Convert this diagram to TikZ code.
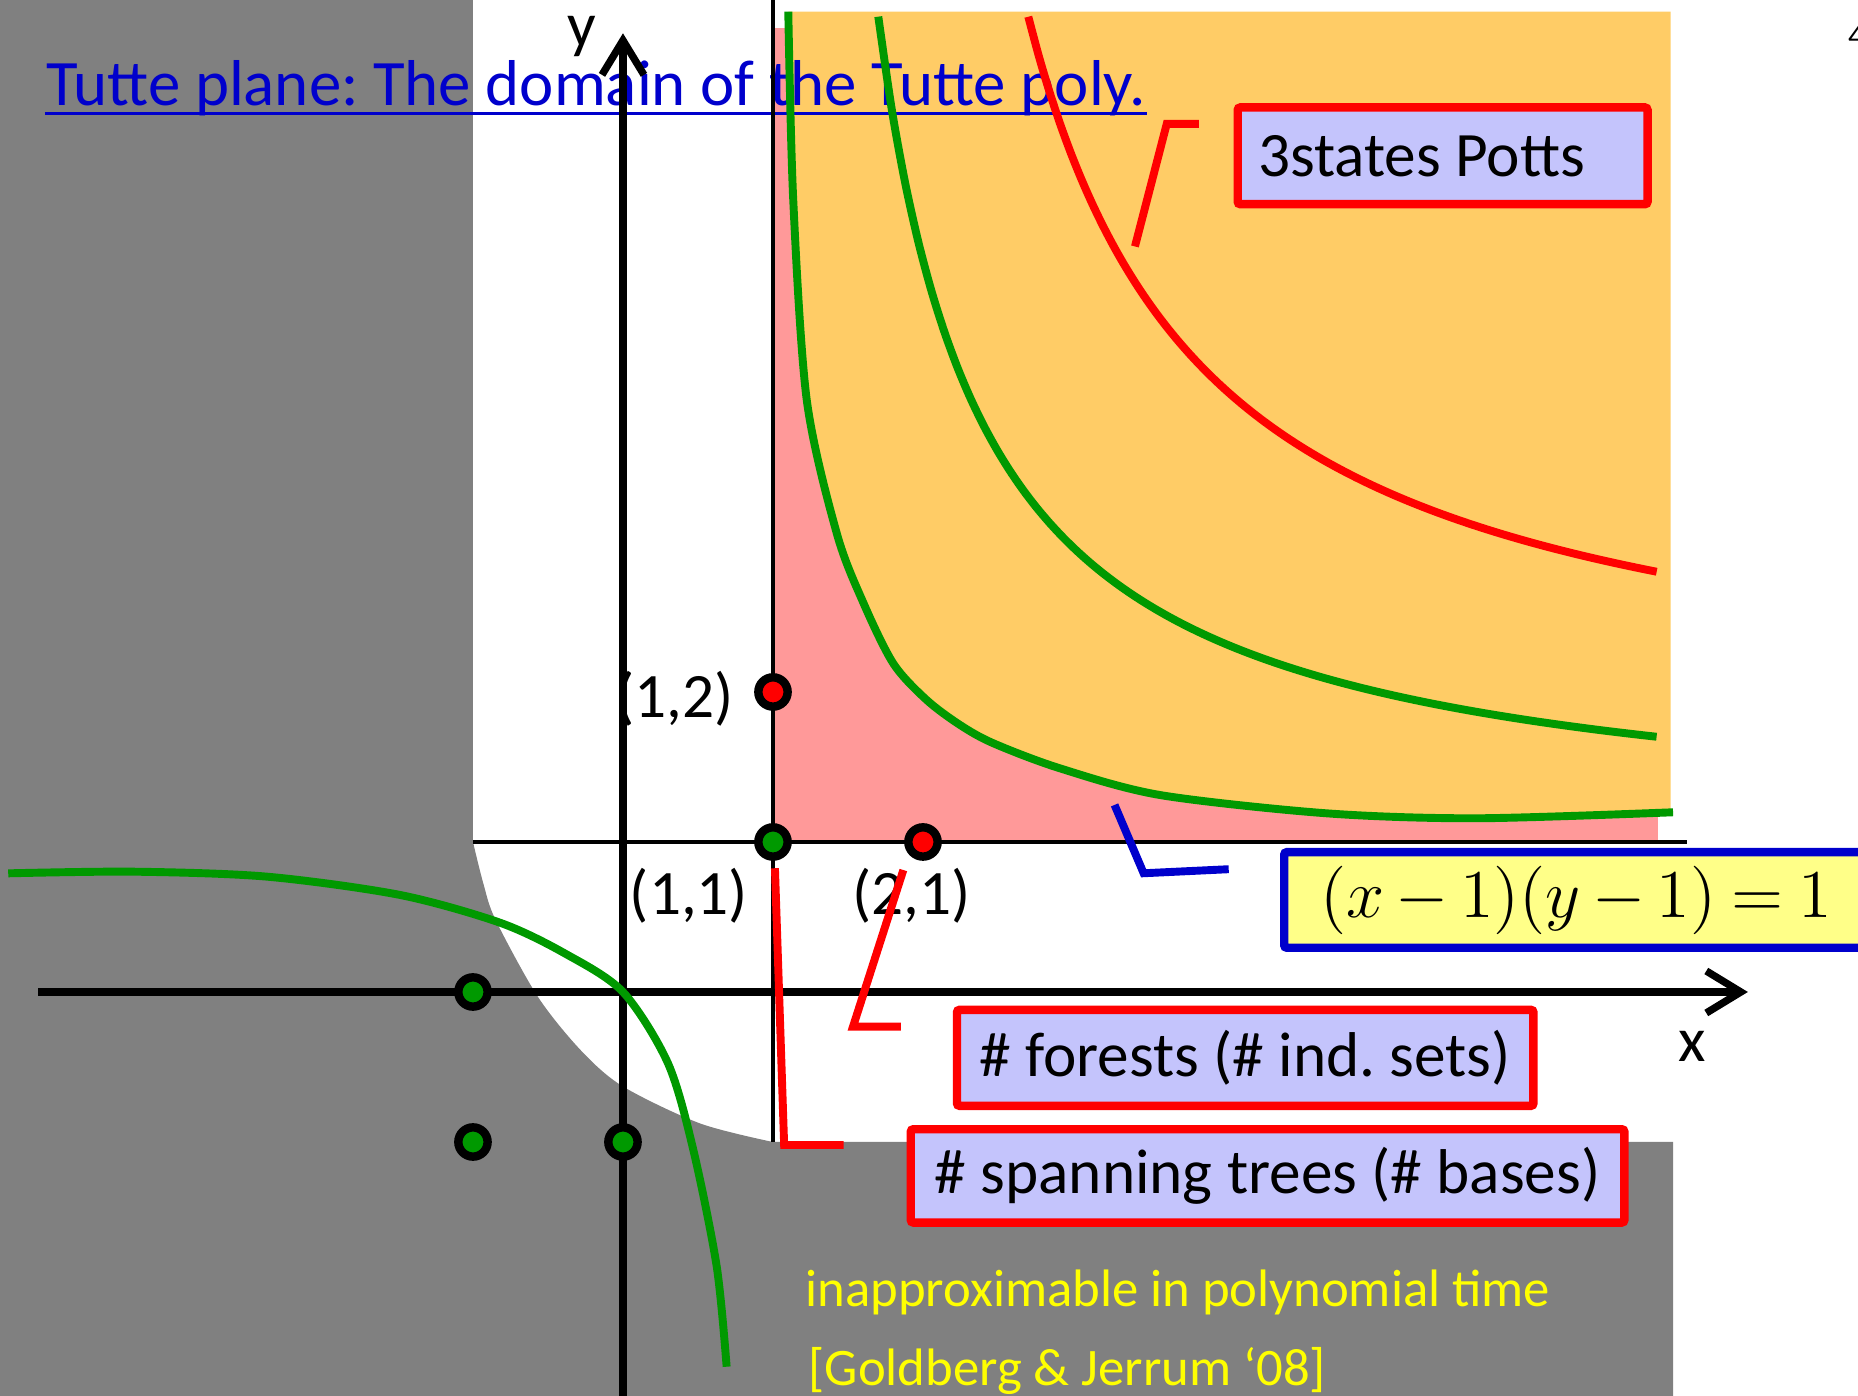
\documentclass[tikz,border=0pt]{standalone}
\usepackage{fontspec}
\setmainfont{Carlito}
\frenchspacing
\usetikzlibrary{arrows.meta}
\definecolor{shadegray}{RGB}{128,128,128}
\definecolor{regionpink}{RGB}{255,153,153}
\definecolor{regionorange}{RGB}{255,204,102}
\definecolor{curvegreen}{RGB}{0,153,0}
\definecolor{curvered}{RGB}{255,0,0}
\definecolor{linkblue}{RGB}{0,0,204}
\definecolor{boxlavender}{RGB}{196,196,252}
\definecolor{boxyellow}{RGB}{255,255,136}
\definecolor{noteyellow}{RGB}{255,255,0}

\begin{document}
\begin{tikzpicture}[
  axis/.style={line width=1.4pt, -{Straight Barb[length=2.3mm,width=2.8mm]}},
  thinline/.style={line width=0.6pt},
  curve/.style={line width=1.5pt},
  callout/.style={line width=1.5pt},
  dot/.style={circle, draw=black, line width=1.6pt, inner sep=0pt, minimum size=1.95mm},
  ptlabel/.style={inner sep=0pt, font=\fontsize{12}{14}\selectfont},
  labelbox/.style={draw=curvered, fill=boxlavender, line width=1.6pt, rounded corners=0.5pt, inner sep=0pt, font=\fontsize{12}{14}\selectfont},
]
\useasboundingbox (-4.153,-2.693) rectangle (8.233,6.613);

% Regions
\fill[shadegray] (-4.153,6.613) -- (-1,6.613) -- (-1,1)
  -- plot[smooth] coordinates {(-1,1) (-0.93,0.72) (-0.849,0.48) (-0.568,-0.031) (-0.28,-0.39) (0,-0.63) (0.513,-0.876) (1,-1)}
  -- (7,-1) -- (7,-2.693) -- (-4.153,-2.693) -- cycle;
\fill[regionpink] (1,1) rectangle (6.902,6.424);
\fill[regionorange] plot[smooth] coordinates {(1.102,6.535) (1.135,5.28) (1.225,3.947) (1.425,3.058) (1.6,2.6) (1.802,2.19) (2.024,1.947) (2.247,1.78) (2.469,1.658) (2.913,1.491) (3.58,1.313) (4.691,1.191) (5.691,1.158) (7.0,1.198)}
  -- (6.983,1.198) -- (6.983,6.535) -- cycle;

% Title
\node[anchor=base west, inner sep=0pt, text=linkblue, font=\fontsize{12.3}{14}\selectfont] (title) at (-3.853,5.907) {Tutte plane: The domain of the Tutte poly.};
\draw[linkblue, line width=0.6pt] ([yshift=-1.4pt]title.base west) -- ([yshift=-1.4pt]title.base east);
\node[anchor=base west, inner sep=0pt, font=\fontsize{6}{7}\selectfont] (pagenum) at (8.16,6.3) {4};

% Lines x=1 and y=1
\draw[thinline] (1,-1) -- (1,6.613);
\draw[thinline] (-1,1) -- (7.096,1);

% Axes
\draw[axis] (-3.898,0) -- (7.499,0);
\draw[axis] (0,-2.693) -- (0,6.391);
\node[ptlabel] (xlabel) at (7.125,-0.365) {x};
\node[ptlabel, anchor=base] (ylabel) at (-0.273,6.3) {y};

% Curves
\draw[curve, curvegreen] plot[smooth] coordinates {(1.102,6.535) (1.135,5.28) (1.225,3.947) (1.425,3.058) (1.6,2.6) (1.802,2.19) (2.024,1.947) (2.247,1.78) (2.469,1.658) (2.913,1.491) (3.58,1.313) (4.691,1.191) (5.691,1.158) (7.0,1.198)};
\draw[curve, curvegreen] plot[domain=1.702:6.891, samples=60, smooth] (\x, {1.052+3.8256/(\x-1)});
\draw[curve, curvered] plot[domain=2.702:6.891, samples=60, smooth] (\x, {1.74+5.723/(\x-1.5)});
\draw[curve, curvegreen] plot[smooth] coordinates {(-4.098,0.791) (-3.265,0.802) (-2.375,0.769) (-1.487,0.647) (-0.82,0.462) (-0.389,0.258) (0,0) (0.3,-0.475) (0.469,-1.053) (0.625,-1.831) (0.691,-2.498)};

% Points
\node[dot, fill=curvegreen] (p11) at (1,1) {};
\node[dot, fill=curvered] (p21) at (2,1) {};
\node[dot, fill=curvered] (p12) at (1,2) {};
\node[dot, fill=curvegreen] (pm10) at (-1,0) {};
\node[dot, fill=curvegreen] (pm1m1) at (-1,-1) {};
\node[dot, fill=curvegreen] (p0m1) at (0,-1) {};
\node[ptlabel, anchor=east] (l12) at (0.745,1.953) {(1,2)};
\node[ptlabel] (l11) at (0.44,0.643) {(1,1)};
\node[ptlabel] (l21) at (1.925,0.643) {(2,1)};

% Boxes
\node[labelbox, minimum width=2.732cm, minimum height=0.645cm] (potts) at (5.464,5.574) {3states Potts\hspace*{0.28cm}};
\node[labelbox, draw=linkblue, fill=boxyellow, minimum width=3.892cm, minimum height=0.637cm] (tutteeq) at (6.354,0.6135) {\scalebox{1.08}{\medmuskip=3mu\thickmuskip=4mu$(x-1)(y-1)=1$}};
\node[labelbox, minimum width=3.843cm, minimum height=0.64cm] (forests) at (4.148,-0.439) {\# forests (\# ind. sets)};
\node[labelbox, minimum width=4.757cm, minimum height=0.622cm] (trees) at (4.297,-1.226) {\# spanning trees (\# bases)};

% Callouts
\coordinate (pottstip) at (3.413,4.97);
\coordinate (eqtip) at (3.277,1.247);
\coordinate (foreststip) at (1.869,0.813);
\coordinate (treestip) at (1.013,0.825);
\draw[callout, curvered] ([xshift=-2.31mm, yshift=2.13mm]potts.west) -- ++(-0.214,0) -- (pottstip);
\draw[callout, linkblue] ([xshift=-3.42mm, yshift=2.05mm]tutteeq.west) -- ++(-0.567,-0.027) -- (eqtip);
\draw[callout, curvered] ([xshift=-3.46mm, yshift=2.08mm]forests.west) -- ++(-0.319,0) -- (foreststip);
\draw[callout, curvered] ([xshift=-4.2mm, yshift=2.06mm]trees.west) -- ++(-0.396,0) -- (treestip);

% Hardness note
\node[anchor=base west, inner sep=0pt, text=noteyellow, font=\fontsize{10}{12}\selectfont] (hardness) at (1.21,-2.098) {inapproximable in polynomial time};
\node[anchor=base west, inner sep=0pt, text=noteyellow, font=\fontsize{10}{12}\selectfont] (hardnessref) at ([xshift=0.2mm, yshift=-5.22mm]hardness.base west) {[Goldberg \& Jerrum ‘08]};
\end{tikzpicture}
\end{document}
